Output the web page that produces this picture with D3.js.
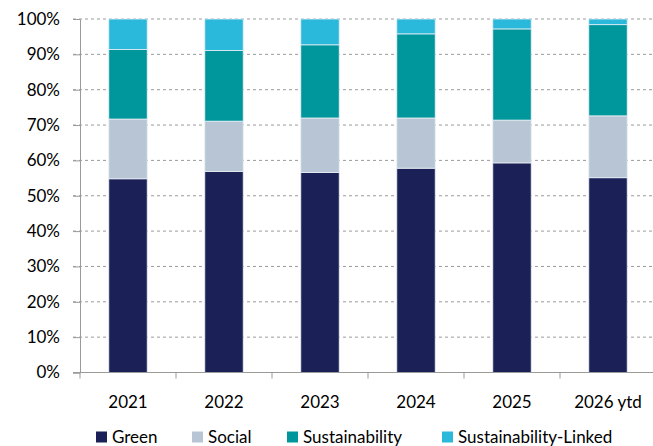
<!DOCTYPE html>
<html>
<head>
<meta charset="utf-8">
<script src="https://cdn.jsdelivr.net/npm/d3@7"></script>
<style>
  html, body { margin: 0; padding: 0; background: #fff; }
  svg { display: block; font-family: Lato, "Open Sans", sans-serif; }
</style>
</head>
<body>
<svg id="chart" width="653" height="446"></svg>
<script>
// Issuance mix by label type (% share of annual total)
const years = ["2021", "2022", "2023", "2024", "2025", "2026 ytd"];
const seriesNames = ["Green", "Social", "Sustainability", "Sustainability-Linked"];
const green = [54.8, 56.9, 56.6, 57.8, 59.3, 55.1];
const social = [16.9, 14.2, 15.4, 14.2, 12.1, 17.5];
const sustainability = [19.7, 20.0, 20.7, 23.8, 25.8, 25.8];
const sustainabilityLinked = [8.6, 8.9, 7.3, 4.2, 2.8, 1.6];
const yTicks = [0, 10, 20, 30, 40, 50, 60, 70, 80, 90, 100];
const colors = ["#1b2157", "#b8c5d4", "#00979c", "#2ab8db"];

const rows = years.map((yr, i) => ({
  year: yr,
  Green: green[i],
  Social: social[i],
  Sustainability: sustainability[i],
  "Sustainability-Linked": sustainabilityLinked[i]
}));

const svg = d3.select("#chart");
const plotLeft = 80, plotRight = 656, plotTop = 19, plotBottom = 372.5;

const x = d3.scaleBand().domain(years).range([plotLeft, plotRight]).paddingInner(0.6).paddingOuter(0.3);
const xb = d3.scaleBand().domain(years).range([plotLeft, plotRight]);
const y = d3.scaleLinear().domain([0, 100]).range([plotBottom, plotTop]);
const color = d3.scaleOrdinal().domain(seriesNames).range(colors);

// dashed gridlines
svg.append("g")
  .selectAll("line")
  .data(yTicks.filter(t => t > 0))
  .join("line")
  .attr("x1", plotLeft - 7).attr("x2", plotRight)
  .attr("y1", d => y(d)).attr("y2", d => y(d))
  .attr("stroke", "#9a9a9a")
  .attr("stroke-width", 1)
  .attr("stroke-dasharray", "3,3");

// stacked bars
const stacked = d3.stack().keys(seriesNames)(rows);
svg.append("g")
  .selectAll("g")
  .data(stacked)
  .join("g")
  .attr("fill", d => color(d.key))
  .selectAll("rect")
  .data(d => d)
  .join("rect")
  .attr("x", d => x(d.data.year))
  .attr("width", x.bandwidth())
  .attr("y", d => y(d[1]))
  .attr("height", d => y(d[0]) - y(d[1]))
  .attr("stroke", "#e8eef5")
  .attr("stroke-width", 0.8);

// y axis
const yAxis = svg.append("g")
  .attr("transform", `translate(${plotLeft},0)`)
  .call(d3.axisLeft(y).tickValues(yTicks).tickFormat(d => d + "%").tickSize(7).tickPadding(13));
yAxis.select(".domain").attr("stroke", "#9a9a9a");
yAxis.selectAll(".tick line").attr("stroke", "#9a9a9a");
yAxis.selectAll("text").attr("font-size", 17).attr("fill", "#000").attr("font-family", "Lato, sans-serif");

// x axis baseline with ticks at band edges
const xAxis = svg.append("g");
xAxis.append("line")
  .attr("x1", plotLeft - 7).attr("x2", plotRight)
  .attr("y1", plotBottom).attr("y2", plotBottom)
  .attr("stroke", "#9a9a9a");
xAxis.selectAll("line.tk")
  .data(years.concat(["end"]))
  .join("line")
  .attr("class", "tk")
  .attr("x1", (d, i) => plotLeft + i * xb.bandwidth())
  .attr("x2", (d, i) => plotLeft + i * xb.bandwidth())
  .attr("y1", plotBottom).attr("y2", plotBottom + 6)
  .attr("stroke", "#9a9a9a");
xAxis.selectAll("text")
  .data(years)
  .join("text")
  .attr("x", d => xb(d) + xb.bandwidth() / 2)
  .attr("y", 402)
  .attr("dy", "0.35em")
  .attr("text-anchor", "middle")
  .attr("font-size", 17)
  .attr("fill", "#000")
  .text(d => d);

// legend
const legendX = [96, 192, 287, 442];
const legend = svg.append("g");
const item = legend.selectAll("g")
  .data(seriesNames)
  .join("g")
  .attr("transform", (d, i) => `translate(${legendX[i]},437)`);
item.append("rect")
  .attr("x", 0).attr("y", -5.5)
  .attr("width", 11).attr("height", 11)
  .attr("fill", d => color(d));
item.append("text")
  .attr("x", 16)
  .attr("dy", "0.35em")
  .attr("font-size", 17)
  .attr("fill", "#000")
  .text(d => d);
</script>
</body>
</html>
